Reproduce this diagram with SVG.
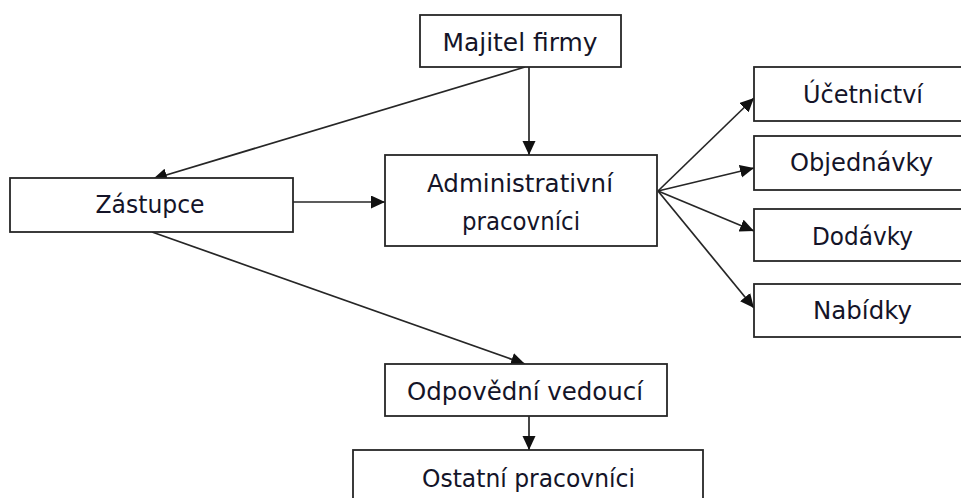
<svg xmlns="http://www.w3.org/2000/svg" width="961" height="498" viewBox="0 0 961 498">
<style>
.box{fill:#fff;stroke:#262626;stroke-width:1.8}
.lbl{font-family:"DejaVu Sans","Liberation Sans",sans-serif;font-size:24px;fill:#141428;text-anchor:middle}
.con{stroke:#262626;stroke-width:1.7;fill:none;marker-end:url(#arr)}
</style>
<defs>
<marker id="arr" markerUnits="userSpaceOnUse" markerWidth="16" markerHeight="14" refX="14" refY="6.5" orient="auto">
<path d="M0,0 L14,6.5 L0,13 Z" fill="#111"/>
</marker>
</defs>
<rect width="961" height="498" fill="#fff"/>
<g id="connectors">
<line class="con" x1="525" y1="67" x2="153" y2="179"/>
<line class="con" x1="529" y1="67" x2="529" y2="155"/>
<line class="con" x1="293" y1="202" x2="385" y2="202"/>
<line class="con" x1="152" y1="232" x2="525" y2="364"/>
<line class="con" x1="658" y1="191" x2="754" y2="98"/>
<line class="con" x1="658" y1="191" x2="754" y2="168"/>
<line class="con" x1="658" y1="191" x2="754" y2="231"/>
<line class="con" x1="658" y1="191" x2="754" y2="308"/>
<line class="con" x1="529" y1="416" x2="529" y2="450"/>
</g>
<g id="majitel">
<rect class="box" x="420" y="15" width="201" height="52"/>
<text class="lbl" x="520" y="51" textLength="155" lengthAdjust="spacingAndGlyphs">Majitel firmy</text>
</g>
<g id="zastupce">
<rect class="box" x="10" y="178" width="283" height="54"/>
<text class="lbl" x="150" y="213" textLength="109" lengthAdjust="spacingAndGlyphs">Zástupce</text>
</g>
<g id="admin">
<rect class="box" x="385" y="155" width="272" height="91"/>
<text class="lbl" x="520" y="192" textLength="186" lengthAdjust="spacingAndGlyphs">Administrativní</text>
<text class="lbl" x="521" y="230" textLength="118" lengthAdjust="spacingAndGlyphs">pracovníci</text>
</g>
<g id="ucetnictvi">
<rect class="box" x="754" y="67" width="230" height="54"/>
<text class="lbl" x="863" y="103" textLength="120" lengthAdjust="spacingAndGlyphs">Účetnictví</text>
</g>
<g id="objednavky">
<rect class="box" x="754" y="136" width="230" height="54"/>
<text class="lbl" x="861.5" y="171" textLength="143" lengthAdjust="spacingAndGlyphs">Objednávky</text>
</g>
<g id="dodavky">
<rect class="box" x="754" y="209" width="230" height="52"/>
<text class="lbl" x="862.5" y="245" textLength="101" lengthAdjust="spacingAndGlyphs">Dodávky</text>
</g>
<g id="nabidky">
<rect class="box" x="754" y="284" width="230" height="53"/>
<text class="lbl" x="862.5" y="319" textLength="99" lengthAdjust="spacingAndGlyphs">Nabídky</text>
</g>
<g id="odpovedni">
<rect class="box" x="385" y="364" width="282" height="52"/>
<text class="lbl" x="525" y="400" textLength="236" lengthAdjust="spacingAndGlyphs">Odpovědní vedoucí</text>
</g>
<g id="ostatni">
<rect class="box" x="353" y="450" width="350" height="70"/>
<text class="lbl" x="528.5" y="487" textLength="213" lengthAdjust="spacingAndGlyphs">Ostatní pracovníci</text>
</g>
</svg>
